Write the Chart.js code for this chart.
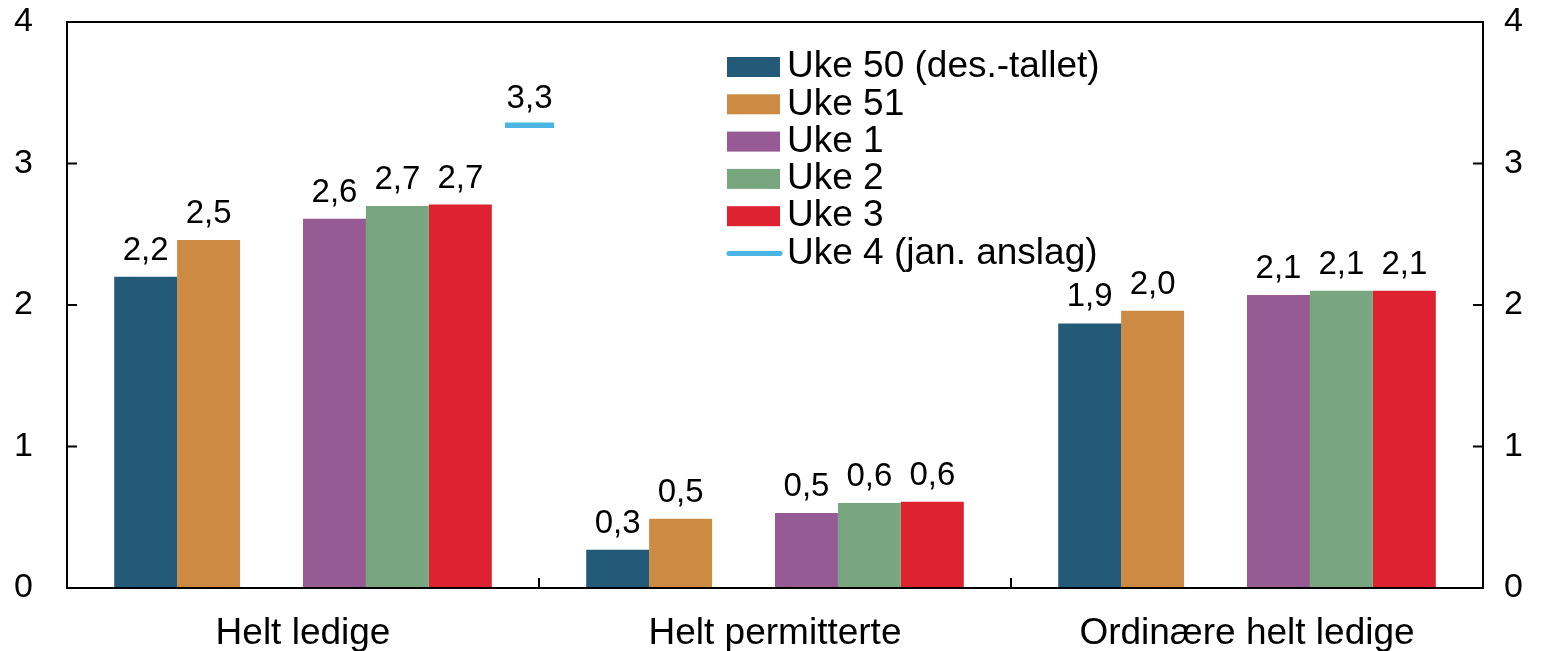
<!DOCTYPE html>
<html>
<head>
  <meta charset="utf-8">
  <title>Ledighet per uke</title>
  <script src="https://cdn.jsdelivr.net/npm/chart.js"></script>
  <style>
    html, body {
      margin: 0;
      padding: 0;
      background: #fff;
    }
    .chart-container {
      width: 1545px;
      height: 651px;
    }
  </style>
</head>
<body>
  <div class="chart-container">
    <canvas id="grafLedighet" width="1545" height="651"></canvas>
  </div>

  <script>
    // Andel av arbeidsstyrken, prosent
    const kategorier = ['Helt ledige', 'Helt permitterte', 'Ordinære helt ledige'];
    const uke50 = [2.20, 0.27, 1.87];
    const uke51 = [2.46, 0.49, 1.96];
    const uke1 = [2.61, 0.53, 2.07];
    const uke2 = [2.70, 0.60, 2.10];
    const uke3 = [2.71, 0.61, 2.10];
    const uke4 = [3.27];            // anslag finnes bare for helt ledige
    const yTicks = [0, 1, 2, 3, 4];

    const FONT = "'Liberation Sans', Arial, sans-serif";
    const uke4Forskyvning = 0.48;   // anslaget står til høyre for gruppen

    const farger = {
      uke50: '#235a78',
      uke51: '#cd8a42',
      uke1: '#965a94',
      uke2: '#78a67e',
      uke3: '#de222f',
      uke4: '#4ab4e2'
    };

    const fmt = v => v.toFixed(1).replace('.', ',');
    // x-aksen er lineær: kategori i ligger på verdien i
    const punkter = arr => arr.map((v, i) => ({ x: i, y: v }));

    // ramme, innovervendte streker, verdietiketter og forklaring
    const tegnPynt = {
      id: 'tegnPynt',
      afterDatasetsDraw(chart) {
        const { ctx, chartArea: a, scales } = chart;
        ctx.save();

        // verdier over søylene og over anslaget
        ctx.fillStyle = '#000';
        ctx.font = '33px ' + FONT;
        ctx.textAlign = 'center';
        ctx.textBaseline = 'middle';
        chart.data.datasets.forEach((ds, i) => {
          if (!ds.label) return;
          chart.getDatasetMeta(i).data.forEach((el, j) => {
            const v = ds.data[j].y;
            if (v == null) return;
            ctx.fillText(fmt(v), el.x, el.y - 26);
          });
        });

        // ramme rundt plottet
        ctx.strokeStyle = '#000';
        ctx.lineWidth = 2;
        ctx.strokeRect(a.left, a.top, a.right - a.left, a.bottom - a.top);

        ctx.beginPath();
        yTicks.forEach(t => {
          const y = scales.y.getPixelForValue(t);
          ctx.moveTo(a.left, y);
          ctx.lineTo(a.left + 10, y);
          ctx.moveTo(a.right, y);
          ctx.lineTo(a.right - 10, y);
        });
        // skillestreker mellom kategoriene
        for (let i = 1; i < kategorier.length; i++) {
          const x = scales.x.getPixelForValue(i - 0.5);
          ctx.moveTo(x, a.bottom);
          ctx.lineTo(x, a.bottom - 10);
        }
        ctx.stroke();

        // forklaring
        const lx = 727, ly = 67, rad = 37.3;
        ctx.font = '37px ' + FONT;
        ctx.textAlign = 'left';
        let n = 0;
        chart.data.datasets.forEach(ds => {
          if (!ds.label) return;
          const y = ly + n * rad;
          if (ds.type === 'line') {
            ctx.strokeStyle = ds.borderColor;
            ctx.lineWidth = 5;
            ctx.lineCap = 'round';
            ctx.beginPath();
            ctx.moveTo(lx + 2, y);
            ctx.lineTo(lx + 53, y);
            ctx.stroke();
          } else {
            ctx.fillStyle = ds.backgroundColor;
            ctx.fillRect(lx, y - 10, 53, 20);
          }
          ctx.fillStyle = '#000';
          ctx.fillText(ds.label, lx + 60, y);
          n++;
        });

        ctx.restore();
      }
    };

    const yAkse = (posisjon, pad, bredde) => ({
      position: posisjon,
      min: 0, max: 4,
      grid: { display: false, drawTicks: false },
      border: { display: false },
      ticks: { stepSize: 1, color: '#000', font: { family: FONT, size: 34 }, padding: pad },
      afterFit: s => { s.width = bredde; s.paddingTop = 0; s.paddingBottom = 0; }
    });

    const ctx = document.getElementById('grafLedighet').getContext('2d');
    new Chart(ctx, {
      type: 'bar',
      data: {
        datasets: [
          { label: 'Uke 50 (des.-tallet)', data: punkter(uke50), backgroundColor: farger.uke50 },
          { label: 'Uke 51', data: punkter(uke51), backgroundColor: farger.uke51 },
          { label: '', data: punkter([null, null, null]) },   // tom plass mellom årene
          { label: 'Uke 1', data: punkter(uke1), backgroundColor: farger.uke1 },
          { label: 'Uke 2', data: punkter(uke2), backgroundColor: farger.uke2 },
          { label: 'Uke 3', data: punkter(uke3), backgroundColor: farger.uke3 },
          {
            type: 'line',
            label: 'Uke 4 (jan. anslag)',
            data: uke4.map((v, i) => ({ x: i + uke4Forskyvning, y: v })),
            showLine: false,
            borderColor: farger.uke4,
            pointStyle: 'line',
            pointRadius: 24.5,
            pointBorderWidth: 5.5,
            pointBorderColor: farger.uke4
          }
        ]
      },
      options: {
        responsive: false,
        maintainAspectRatio: false,
        animation: false,
        datasets: {
          bar: { categoryPercentage: 0.8, barPercentage: 1.0 }
        },
        layout: { autoPadding: false, padding: { top: 22, left: 0, right: 0, bottom: 0 } },
        plugins: {
          legend: { display: false },
          tooltip: { enabled: false }
        },
        scales: {
          x: {
            type: 'linear',
            min: -0.5, max: 2.5,
            offset: false,
            grid: { display: false, drawTicks: false, offset: false },
            border: { display: false },
            afterBuildTicks: s => { s.ticks = kategorier.map((_, i) => ({ value: i })); },
            ticks: {
              color: '#000', font: { family: FONT, size: 37 }, padding: 24,
              maxRotation: 0, autoSkip: false,
              callback: v => kategorier[v]
            },
            afterFit: s => { s.height = 63; s.paddingLeft = 0; s.paddingRight = 0; }
          },
          y: yAkse('left', 34, 67),
          y2: yAkse('right', 21, 62)
        }
      },
      plugins: [tegnPynt]
    });
  </script>
</body>
</html>
